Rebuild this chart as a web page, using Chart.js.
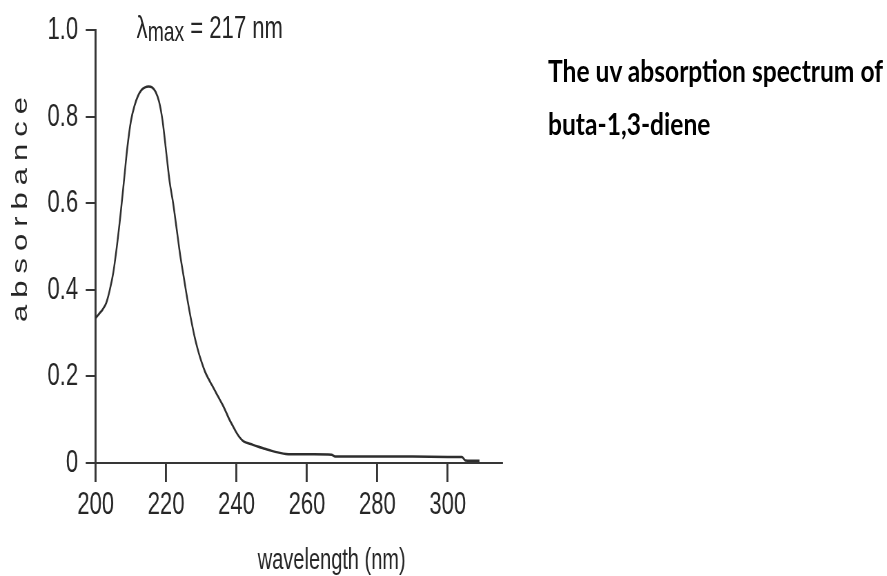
<!DOCTYPE html>
<html>
<head>
<meta charset="utf-8">
<script src="https://cdn.jsdelivr.net/npm/chart.js@4/dist/chart.umd.min.js"></script>
<style>
  html, body { margin: 0; padding: 0; background: #fff; }
  #wrap { position: relative; width: 887px; height: 576px; overflow: hidden; }
  /* the source figure is a horizontally squeezed Helvetica plot, so the plot box is squeezed too */
  #plot { position: absolute; left: 0; top: 0; width: 812px; height: 576px; transform-origin: 0 0; transform: scaleX(0.69); }
  #uvChart { position: absolute; left: 0; top: 0; }
  .lbl { position: absolute; white-space: nowrap; }
  #lambda { left: 198px; top: 9px; color: #262626; font: 32px "Liberation Sans", Arial, sans-serif; }
  #lambda sub { font-size: 28px; vertical-align: -3px; }
  .note { left: 548px; font: bold 24.6px Lato, "Open Sans", sans-serif; color: #000; transform-origin: left top; transform: scaleY(1.22); }
</style>
</head>
<body>
<div id="wrap">
  <div id="plot">
    <canvas id="uvChart" width="812" height="576"></canvas>
    <div class="lbl" id="lambda">λ<sub>max</sub> = 217 nm</div>
  </div>
  <div class="lbl note" style="top: 53px;">The uv absorption spectrum of</div>
  <div class="lbl note" style="top: 106px;">buta-1,3-diene</div>
</div>
<script>
const wavelengths = [200, 201, 202, 203, 204, 205, 206, 207, 208, 209, 210, 211, 212, 213, 214, 215, 216, 217, 218, 219,
    220, 221, 222, 223, 224, 225, 226, 227, 228, 229, 230, 231, 232, 233, 234, 235, 236, 237, 238, 239,
    240, 241, 242, 244, 246, 248, 250, 252, 254, 258, 262, 267, 268, 280, 290, 300, 304, 305, 309];
const absorbance = [0.335, 0.345, 0.355, 0.370, 0.400, 0.440, 0.500, 0.570, 0.650, 0.730, 0.790, 0.825, 0.848, 0.862, 0.868, 0.870, 0.868, 0.858, 0.835, 0.790,
    0.720, 0.650, 0.600, 0.540, 0.480, 0.430, 0.380, 0.335, 0.295, 0.262, 0.235, 0.212, 0.195, 0.180, 0.165, 0.150, 0.135, 0.118, 0.100, 0.085,
    0.070, 0.058, 0.050, 0.044, 0.038, 0.033, 0.028, 0.024, 0.021, 0.020, 0.020, 0.019, 0.015, 0.015, 0.015, 0.014, 0.014, 0.006, 0.005];
const xTicks = [200, 220, 240, 260, 280, 300];
const yTicks = [0, 0.2, 0.4, 0.6, 0.8, 1.0];

const sans = '"Liberation Sans", Arial, sans-serif';
const axisColor = '#363636';
const textColor = '#262626';

// axis titles drawn by hand so the y title can be letter-spaced
const axisTitles = {
    id: 'axisTitles',
    afterDraw(chart) {
        const { ctx, chartArea } = chart;
        ctx.save();
        ctx.fillStyle = textColor;
        ctx.font = '29px ' + sans;
        ctx.textAlign = 'center';
        ctx.textBaseline = 'alphabetic';
        ctx.fillText('wavelength (nm)', chartArea.left + 342, 569);

        ctx.translate(39, 210);
        ctx.rotate(-Math.PI / 2);
        ctx.font = '31px ' + sans;
        ctx.letterSpacing = '7px';
        ctx.fillText('absorbance', 4, 0);
        ctx.restore();
    }
};

new Chart(document.getElementById('uvChart'), {
    type: 'line',
    data: {
        datasets: [{
            data: wavelengths.map((w, i) => ({ x: w, y: absorbance[i] })),
            borderColor: '#2e2e2e',
            borderWidth: 2.5,
            pointRadius: 0,
            cubicInterpolationMode: 'monotone',
            fill: false
        }]
    },
    options: {
        responsive: false,
        animation: false,
        layout: { padding: { top: 29, right: 84.5, left: 0, bottom: 0 } },
        plugins: { legend: { display: false }, tooltip: { enabled: false } },
        scales: {
            x: {
                type: 'linear',
                min: 200,
                max: 315.4,
                afterBuildTicks: (s) => { s.ticks = xTicks.map(v => ({ value: v })); },
                afterFit: (s) => { s.height = 113; },
                grid: { drawOnChartArea: false, tickLength: 19, color: axisColor, lineWidth: 2.9 },
                border: { color: axisColor, width: 2 },
                ticks: { color: textColor, font: { family: sans, size: 32 }, padding: 4, maxRotation: 0 }
            },
            y: {
                min: 0,
                max: 1.0,
                afterBuildTicks: (s) => { s.ticks = yTicks.map(v => ({ value: v })); },
                afterFit: (s) => { s.width = 138.7; },
                grid: { drawOnChartArea: false, tickLength: 14.5, color: axisColor, lineWidth: 2 },
                border: { color: axisColor, width: 2.9 },
                ticks: {
                    color: textColor,
                    font: { family: sans, size: 32 },
                    padding: 11,
                    callback: (v) => v === 0 ? '0' : v.toFixed(1)
                }
            }
        }
    },
    plugins: [axisTitles]
});
</script>
</body>
</html>
